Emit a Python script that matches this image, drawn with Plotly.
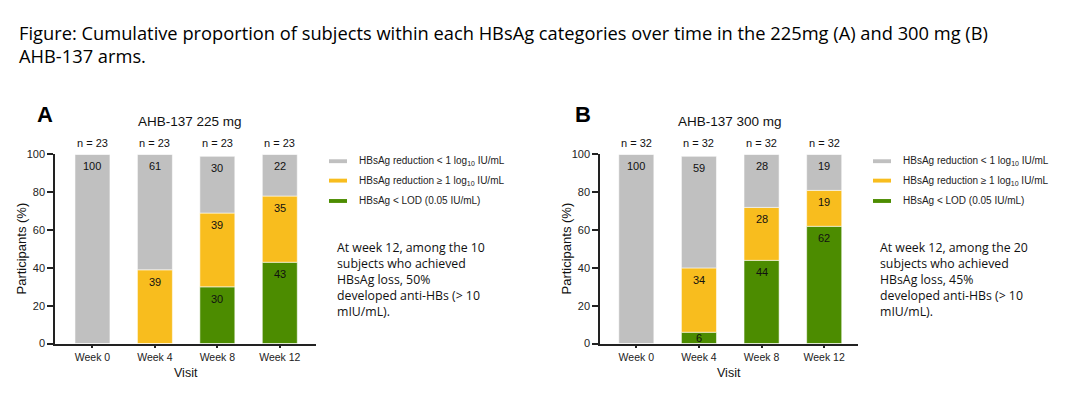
import plotly.graph_objects as go

W, H = 1071, 401

visits = ["Week 0", "Week 4", "Week 8", "Week 12"]
category_names = [
    "HBsAg < LOD (0.05 IU/mL)",
    "HBsAg reduction ≥ 1 log<sub>10</sub> IU/mL",
    "HBsAg reduction < 1 log<sub>10</sub> IU/mL",
]
category_colors = ["#4C8C00", "#F8BD1E", "#C0C0C0"]

# Panel A: AHB-137 225 mg (percent of participants)
a_lod = [0, 0, 30, 43]
a_ge1 = [0, 39, 39, 35]
a_lt1 = [100, 61, 30, 22]
a_n = [23, 23, 23, 23]

# Panel B: AHB-137 300 mg
b_lod = [0, 6, 44, 62]
b_ge1 = [0, 34, 28, 19]
b_lt1 = [100, 59, 28, 19]
b_n = [32, 32, 32, 32]

fig_title_lines = [
    "Figure: Cumulative proportion of subjects within each HBsAg categories over time in the 225mg (A) and 300 mg (B)",
    "AHB-137 arms.",
]
panel_titles = ["AHB-137 225 mg", "AHB-137 300 mg"]
panel_letters = ["A", "B"]
notes = [
    "At week 12, among the 10<br>subjects who achieved<br>HBsAg loss, 50%<br>developed anti-HBs (> 10<br>mIU/mL).",
    "At week 12, among the 20<br>subjects who achieved<br>HBsAg loss, 45%<br>developed anti-HBs (> 10<br>mIU/mL).",
]


def px(x):
    return x / W


def py(y):
    return 1 - y / H


AX = "#222222"
FONT = "Liberation Sans, Arial, sans-serif"

fig = go.Figure()
annotations = []
shapes = []

panels = [
    dict(series=[a_lod, a_ge1, a_lt1], n=a_n, xa="x", ya="y", dom=(55, 316), rng=[-0.6, 3.58],
         title_x=190, letter_x=45, leg_sw=329, leg_tx=357, note_x=335, ytitle_x=22),
    dict(series=[b_lod, b_ge1, b_lt1], n=b_n, xa="x2", ya="y2", dom=(600, 858), rng=[-0.58, 3.54],
         title_x=730, letter_x=583, leg_sw=873, leg_tx=901, note_x=878, ytitle_x=567),
]

for pi, p in enumerate(panels):
    base = [0] * len(visits)
    for si, vals in enumerate(p["series"]):
        fig.add_trace(go.Bar(
            x=visits, y=vals, base=base[:], name=category_names[si],
            marker=dict(color=category_colors[si], line=dict(color="rgba(255,255,255,0.55)", width=1)),
            width=0.56, xaxis=p["xa"], yaxis=p["ya"], showlegend=False, hoverinfo="skip",
        ))
        for vi, v in enumerate(vals):
            if v > 0:
                top = base[vi] + v
                annotations.append(dict(
                    x=visits[vi], y=top - min(6.2, v / 2), xref=p["xa"], yref=p["ya"],
                    text=str(v), showarrow=False, yanchor="middle",
                    font=dict(family=FONT, size=11, color="#111111"),
                ))
        base = [b + v for b, v in zip(base, vals)]
    # n labels
    for vi, n in enumerate(p["n"]):
        annotations.append(dict(
            x=visits[vi], y=100, xref=p["xa"], yref=p["ya"], yshift=11,
            text=f"n = {n}", showarrow=False, yanchor="middle",
            font=dict(family=FONT, size=11, color="#111111"),
        ))
    # panel title & letter
    annotations.append(dict(x=px(p["title_x"]), y=py(119), xref="paper", yref="paper",
                            text=panel_titles[pi], showarrow=False, xanchor="center", yanchor="middle",
                            font=dict(family=FONT, size=13.5, color="#111111")))
    annotations.append(dict(x=px(p["letter_x"]), y=py(112), xref="paper", yref="paper",
                            text=f"<b>{panel_letters[pi]}</b>", showarrow=False, xanchor="center", yanchor="middle",
                            font=dict(family=FONT, size=22, color="#000000")))
    # axis titles
    annotations.append(dict(x=px(p["ytitle_x"]), y=py(250), xref="paper", yref="paper",
                            text="Participants (%)", showarrow=False, textangle=-90,
                            xanchor="center", yanchor="middle",
                            font=dict(family=FONT, size=13, color="#111111")))
    annotations.append(dict(x=px((p["dom"][0] + p["dom"][1]) / 2), y=py(378), xref="paper", yref="paper",
                            text="Visit", showarrow=False, xanchor="center", yanchor="middle",
                            font=dict(family=FONT, size=12.5, color="#111111")))
    # legend (top to bottom: <1, >=1, LOD)
    for li, ci in enumerate([2, 1, 0]):
        yy = [160, 180, 201][li]
        shapes.append(dict(type="rect", xref="paper", yref="paper",
                           x0=px(p["leg_sw"]), x1=px(p["leg_sw"] + 18), y0=py(yy + 2), y1=py(yy - 2),
                           fillcolor=category_colors[ci], line=dict(width=0)))
        annotations.append(dict(x=px(p["leg_tx"]), y=py(yy), xref="paper", yref="paper",
                                text=category_names[ci], showarrow=False, xanchor="left", yanchor="middle",
                                font=dict(family=FONT, size=10, color="#222222")))
    # note
    annotations.append(dict(x=px(p["note_x"]), y=py(238), xref="paper", yref="paper",
                            text=notes[pi], showarrow=False, xanchor="left", yanchor="top", align="left",
                            font=dict(family="Open Sans, sans-serif", size=12.3, color="#111111")))

# figure title
for li, line in enumerate(fig_title_lines):
    annotations.append(dict(x=px(17), y=py([27, 51][li]), xref="paper", yref="paper",
                            text=line, showarrow=False, xanchor="left", yanchor="middle",
                            font=dict(family="Open Sans, sans-serif", size=18.3, color="#000000")))

ydom = [py(348), py(153)]
common_x = dict(showline=True, linecolor=AX, linewidth=1.5, ticks="outside", ticklen=3, tickwidth=1.5,
                tickcolor=AX, showgrid=False, zeroline=False, fixedrange=True,
                tickfont=dict(family=FONT, size=10.5, color="#222222"), type="category")
common_y = dict(showline=True, linecolor=AX, linewidth=1.5, ticks="outside", ticklen=6, tickwidth=1.5,
                tickcolor=AX, showgrid=False, zeroline=False, range=[0, 100], tickvals=[0, 20, 40, 60, 80, 100],
                fixedrange=True, tickfont=dict(family=FONT, size=11, color="#222222"), domain=ydom)

fig.update_layout(
    width=W, height=H, autosize=False,
    margin=dict(l=0, r=0, t=0, b=0),
    paper_bgcolor="white", plot_bgcolor="white",
    barmode="overlay", showlegend=False, hovermode=False,
    xaxis=dict(domain=[px(55), px(316)], range=panels[0]["rng"], anchor="y", **common_x),
    yaxis=dict(anchor="x", **common_y),
    xaxis2=dict(domain=[px(600), px(858)], range=panels[1]["rng"], anchor="y2", **common_x),
    yaxis2=dict(anchor="x2", **common_y),
    annotations=annotations, shapes=shapes,
)

page_fix = (
    "document.documentElement.style.margin='0';document.documentElement.style.padding='0';"
    "document.documentElement.style.overflow='hidden';"
    "document.body.style.margin='0';document.body.style.padding='0';document.body.style.overflow='hidden';"
    "var g=document.getElementById('{plot_id}');g.style.display='block';"
    "if(g.parentElement){g.parentElement.style.height='401px';g.parentElement.style.overflow='hidden';}"
)

fig.write_html("out.html", post_script=page_fix, config={"displayModeBar": False})
